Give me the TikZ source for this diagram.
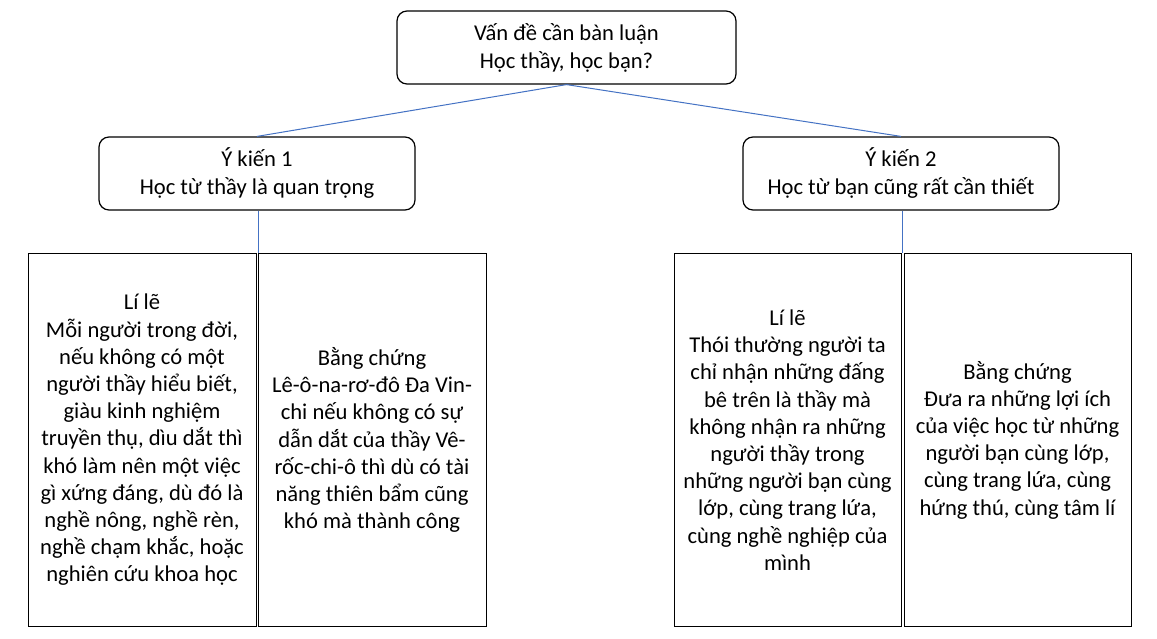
\documentclass[tikz,border=0pt]{standalone}
\usepackage{fontspec}
\setmainfont{Carlito}
\definecolor{conncol}{HTML}{4472C4}
\tikzset{
  rbox/.style={draw=black, line width=1.2pt, rounded corners=10pt, inner sep=0pt, align=center, font=\fontsize{22.6}{28}\selectfont},
  tbox/.style={draw=black, line width=1pt, inner sep=0pt, align=center, font=\fontsize{22.6}{27.2}\selectfont},
  conn/.style={draw=conncol, line width=1pt}
}
\begin{document}
\begin{tikzpicture}[x=1pt,y=-1pt]
\useasboundingbox[fill=white] (0,0) rectangle (1157,639);
\node[rbox, minimum width=339pt, minimum height=73pt] (top) at (566.5,47.5) {Vấn đề cần bàn luận\\Học thầy, học bạn?};
\node[rbox, minimum width=316pt, minimum height=73pt] (op1) at (257,173.5) {Ý kiến 1\\Học từ thầy là quan trọng};
\node[rbox, minimum width=316pt, minimum height=73pt] (op2) at (901,173.5) {Ý kiến 2\\Học từ bạn cũng rất cần thiết};
\node[tbox, minimum width=228pt, minimum height=373pt] (ll1) at (142,440) {Lí lẽ\\Mỗi người trong đời,\\nếu không có một\\người thầy hiểu biết,\\giàu kinh nghiệm\\truyền thụ, dìu dắt thì\\khó làm nên một việc\\gì xứng đáng, dù đó là\\nghề nông, nghề rèn,\\nghề chạm khắc, hoặc\\nghiên cứu khoa học};
\node[tbox, minimum width=228pt, minimum height=373pt] (bc1) at (372,440) {Bằng chứng\\Lê-ô-na-rơ-đô Đa Vin-\\chi nếu không có sự\\dẫn dắt của thầy Vê-\\rốc-chi-ô thì dù có tài\\năng thiên bẩm cũng\\khó mà thành công};
\node[tbox, minimum width=227pt, minimum height=373pt] (ll2) at (787.5,440) {Lí lẽ\\Thói thường người ta\\chỉ nhận những đấng\\bê trên là thầy mà\\không nhận ra những\\người thầy trong\\những người bạn cùng\\lớp, cùng trang lứa,\\cùng nghề nghiệp của\\mình};
\node[tbox, minimum width=227pt, minimum height=373pt] (bc2) at (1017.5,440) {Bằng chứng\\Đưa ra những lợi ích\\của việc học từ những\\người bạn cùng lớp,\\cùng trang lứa, cùng\\hứng thú, cùng tâm lí};
\draw[conn] (top.south) -- (op1.north);
\draw[conn] (top.south) -- (op2.north);
\coordinate (j1) at (258,253);
\coordinate (j2) at (902,253);
\draw[conn] (op1.south -| j1) -- (j1);
\draw[conn] (op2.south -| j2) -- (j2);
\end{tikzpicture}
\end{document}
